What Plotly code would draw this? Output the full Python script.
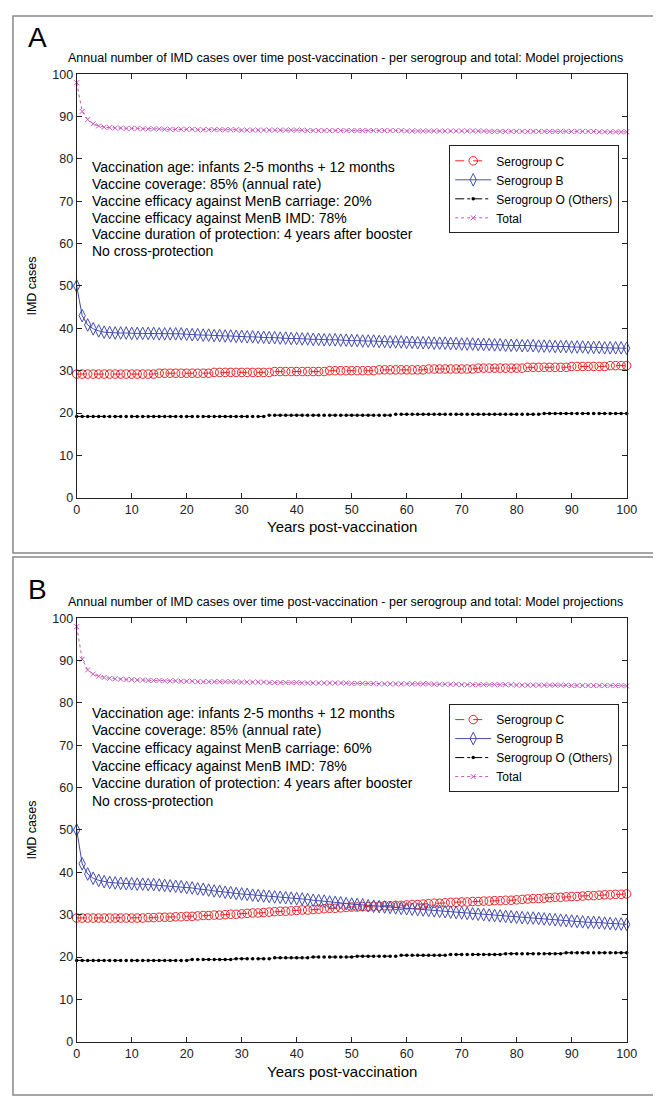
import plotly.graph_objects as go

W, H = 661, 1096

years = list(range(101))

# Panel A: vaccine efficacy against MenB carriage 20%
sg_c_a = [29.2] * 15 + [29.4] * 10 + [29.6] * 11 + [29.8] * 10 + [30.0] * 9 + [30.2] * 9 + \
         [30.4] * 9 + [30.6] * 9 + [30.8] * 8 + [31.0] * 7 + [31.2] * 4
sg_b_a = [50.0, 43.0, 40.8, 39.9, 39.4, 39.1, 39.0, 38.9, 38.9, 38.9,
          38.8, 38.8, 38.8, 38.8, 38.8, 38.7, 38.7, 38.7, 38.7, 38.7,
          38.6, 38.5, 38.5, 38.4, 38.4, 38.3, 38.3, 38.2, 38.2, 38.1,
          38.1, 38.0, 38.0, 37.9, 37.9, 37.8, 37.8, 37.7, 37.7, 37.6,
          37.6, 37.5, 37.5, 37.4, 37.4, 37.3, 37.3, 37.3, 37.2, 37.2,
          37.1, 37.1, 37.0, 37.0, 37.0, 36.9, 36.9, 36.8, 36.8, 36.8,
          36.7, 36.7, 36.6, 36.6, 36.6, 36.5, 36.5, 36.5, 36.4, 36.4,
          36.3, 36.3, 36.3, 36.2, 36.2, 36.2, 36.1, 36.1, 36.0, 36.0,
          36.0, 35.9, 35.9, 35.9, 35.8, 35.8, 35.8, 35.7, 35.7, 35.7,
          35.6, 35.6, 35.6, 35.5, 35.5, 35.5, 35.4, 35.4, 35.4, 35.4,
          35.3]
sg_o_a = [19.2] * 35 + [19.5] * 23 + [19.7] * 27 + [19.9] * 16
total_a = [98.0, 91.2, 89.3, 88.3, 87.8, 87.5, 87.4, 87.3, 87.3, 87.2,
           87.2, 87.2, 87.1, 87.1, 87.1, 87.1, 87.0, 87.0, 87.0, 87.0,
           87.0, 87.0, 86.9, 86.9, 86.9, 86.9, 86.9, 86.9, 86.9, 86.9] + \
          [86.8] * 12 + [86.7] * 18 + [86.6] * 15 + [86.5] * 20 + [86.4] * 6

# Panel B: vaccine efficacy against MenB carriage 60%
sg_c_b = [29.2] * 13 + [29.3, 29.3, 29.4, 29.4, 29.4, 29.5, 29.5,
          29.6, 29.6, 29.7, 29.8, 29.8, 29.9, 29.9, 30.0, 30.1, 30.1,
          30.2, 30.3, 30.4, 30.4, 30.5, 30.6, 30.7, 30.8, 30.8, 30.9,
          31.0, 31.1, 31.1, 31.2, 31.3, 31.4, 31.5, 31.5, 31.6, 31.7,
          31.8, 31.8, 31.9, 31.9, 32.0, 32.0, 32.1, 32.1, 32.2, 32.2,
          32.3, 32.4, 32.4, 32.5, 32.6, 32.7, 32.7, 32.8, 32.9, 32.9,
          33.0, 33.0, 33.1, 33.1, 33.2, 33.2, 33.3, 33.3, 33.4, 33.4,
          33.5, 33.6, 33.7, 33.8, 33.8, 33.9, 34.0, 34.1, 34.1, 34.2,
          34.3, 34.3, 34.4, 34.5, 34.5, 34.6, 34.7, 34.7, 34.8, 34.8,
          34.9]
sg_b_b = [50.0, 42.0, 39.6, 38.6, 38.1, 37.8, 37.6, 37.5, 37.4, 37.3,
          37.3, 37.2, 37.2, 37.1, 37.1, 37.0, 36.9, 36.8, 36.7, 36.6,
          36.4, 36.3, 36.1, 36.0, 35.8, 35.6, 35.5, 35.3, 35.2, 35.0,
          34.9, 34.8, 34.6, 34.5, 34.4, 34.3, 34.2, 34.1, 34.0, 33.9,
          33.8, 33.7, 33.6, 33.4, 33.3, 33.2, 33.0, 32.9, 32.8, 32.6,
          32.5, 32.4, 32.3, 32.1, 32.0, 31.9, 31.8, 31.7, 31.6, 31.5,
          31.4, 31.3, 31.2, 31.1, 31.0, 30.9, 30.8, 30.7, 30.6, 30.5,
          30.4, 30.3, 30.2, 30.1, 30.0, 29.9, 29.8, 29.7, 29.6, 29.5,
          29.4, 29.3, 29.2, 29.2, 29.1, 29.0, 28.9, 28.8, 28.7, 28.6,
          28.5, 28.4, 28.3, 28.2, 28.2, 28.1, 28.0, 27.9, 27.8, 27.8,
          27.7]
sg_o_b = [19.2] * 21 + [19.4] * 8 + [19.6] * 7 + [19.8] * 7 + [20.0] * 8 + [20.2] * 8 + \
         [20.4] * 9 + [20.6] * 10 + [20.8] * 11 + [21.0] * 12
total_b = [98.0, 90.3, 87.8, 86.8, 86.3, 86.0, 85.8, 85.7, 85.6, 85.5,
           85.5, 85.4, 85.4, 85.3, 85.3, 85.3, 85.2, 85.2, 85.2, 85.1,
           85.1, 85.1] + [85.0] * 8 + [84.9] * 5 + [84.8] * 6 + [84.7] * 9 + \
          [84.6] * 5 + [84.5] * 10 + [84.4] * 5 + [84.3] * 10 + [84.2] * 10 + [84.1] * 10 + [84.0]

info_a = ['Vaccination age: infants 2-5 months + 12 months',
          'Vaccine coverage: 85% (annual rate)',
          'Vaccine efficacy against MenB carriage: 20%',
          'Vaccine efficacy against MenB IMD: 78%',
          'Vaccine duration of protection: 4 years after booster',
          'No cross-protection']
info_b = list(info_a)
info_b[2] = 'Vaccine efficacy against MenB carriage: 60%'

title = 'Annual number of IMD cases over time post-vaccination - per serogroup and total: Model projections'

RED = 'rgb(232,36,40)'
BLUE = 'rgb(66,76,176)'
MAG = 'rgb(196,86,186)'
NARROW = 'Liberation Sans Narrow, Arial Narrow, Liberation Sans, sans-serif'
ARIAL = 'Liberation Sans, Arial, sans-serif'


def px(x):
    return x / W


def py(y):
    return 1 - y / H


fig = go.Figure()

# letter, data, info text, axis suffix, legend, pixel offsets of the panel
panels = [
    dict(letra='A', series=(sg_c_a, sg_b_a, sg_o_a, total_a), info=info_a, sfx='', leg='legend',
         top=0, bottom=545, lab=23, tit=44, y100=60, y0=489, leg_top=132, xlab=518,
         lines=[78.0, 74.05, 70.1, 66.15, 62.2, 58.25]),
    dict(letra='B', series=(sg_c_b, sg_b_b, sg_o_b, total_b), info=info_b, sfx='2', leg='legend2',
         top=548, bottom=1094, lab=582, tit=595, y100=611, y0=1040, leg_top=698, xlab=1070,
         lines=[77.7, 73.5, 69.3, 65.1, 61.0, 56.8]),
]

for p in panels:
    c, b, o, t = p['series']
    xa, ya, leg, sfx = 'x' + p['sfx'], 'y' + p['sfx'], p['leg'], p['sfx']
    fig.add_trace(go.Scatter(x=years, y=c, name='Serogroup C', mode='lines+markers',
                             line=dict(color=RED, width=1, dash='dash'),
                             marker=dict(symbol='circle-open', size=8.5, color=RED, line=dict(width=1)),
                             xaxis=xa, yaxis=ya, legend=leg, cliponaxis=False))
    fig.add_trace(go.Scatter(x=years, y=b, name='Serogroup B', mode='lines+markers',
                             line=dict(color=BLUE, width=1),
                             marker=dict(symbol='diamond-tall-open', size=9, color=BLUE, line=dict(width=1)),
                             xaxis=xa, yaxis=ya, legend=leg, cliponaxis=False))
    fig.add_trace(go.Scatter(x=years, y=o, name='Serogroup O (Others)', mode='lines+markers',
                             line=dict(color='black', width=1, dash='dashdot'),
                             marker=dict(symbol='circle', size=3.5, color='black'),
                             xaxis=xa, yaxis=ya, legend=leg, cliponaxis=False))
    fig.add_trace(go.Scatter(x=years, y=t, name='Total', mode='lines+markers',
                             line=dict(color=MAG, width=1, dash='dot'),
                             marker=dict(symbol='x-thin-open', size=5, color=MAG, line=dict(width=1, color=MAG)),
                             xaxis=xa, yaxis=ya, legend=leg, cliponaxis=False))

    ax = dict(range=[0, 100], dtick=10, showline=True, mirror='ticks', linecolor='#222', linewidth=1,
              ticks='inside', ticklen=5, tickcolor='#222', showgrid=False, zeroline=False,
              tickfont=dict(family=NARROW, size=12.5, color='#222'))
    fig.update_layout({'xaxis' + sfx: dict(ax, domain=[px(67), px(628)], anchor=ya),
                       'yaxis' + sfx: dict(ax, domain=[py(p['y0']), py(p['y100'])], anchor=xa)})

    fig.update_layout({leg: dict(x=px(447), y=py(p['leg_top']), xanchor='left', yanchor='top',
                                 bgcolor='white', bordercolor='#222', borderwidth=1,
                                 font=dict(family=NARROW, size=12, color='black'),
                                 tracegroupgap=0, itemwidth=36)})

    fig.add_shape(type='rect', xref='paper', yref='paper', x0=px(2), x1=px(659),
                  y0=py(p['bottom']), y1=py(p['top'] + 1), line=dict(color='#888', width=1.5))

    fig.add_annotation(text=p['letra'], xref='paper', yref='paper', x=px(15), y=py(p['lab']),
                       xanchor='left', yanchor='middle', showarrow=False,
                       font=dict(family=ARIAL, size=28, color='black'))
    fig.add_annotation(text=title, xref='paper', yref='paper', x=px(341), y=py(p['tit']),
                       xanchor='center', yanchor='middle', showarrow=False,
                       font=dict(family=NARROW, size=12.5, color='black'))
    for linha, yv in zip(p['info'], p['lines']):
        fig.add_annotation(text=linha, xref='paper', yref=ya, x=px(81), y=yv,
                           xanchor='left', yanchor='middle', showarrow=False,
                           font=dict(family=ARIAL, size=14, color='black'))
    fig.add_annotation(text='Years post-vaccination', xref='paper', yref='paper', x=px(338),
                       y=py(p['xlab']), xanchor='center', yanchor='middle',
                       showarrow=False, font=dict(family=NARROW, size=15, color='black'))
    fig.add_annotation(text='IMD cases', xref='paper', yref='paper', x=px(21),
                       y=py((p['y0'] + p['y100']) / 2), xanchor='center', yanchor='middle',
                       textangle=-90, showarrow=False,
                       font=dict(family=ARIAL, size=12.5, color='black'))

fig.update_layout(width=W, height=H, margin=dict(l=0, r=0, t=0, b=0),
                  paper_bgcolor='white', plot_bgcolor='white', showlegend=True)

fig.write_html('out.html')
